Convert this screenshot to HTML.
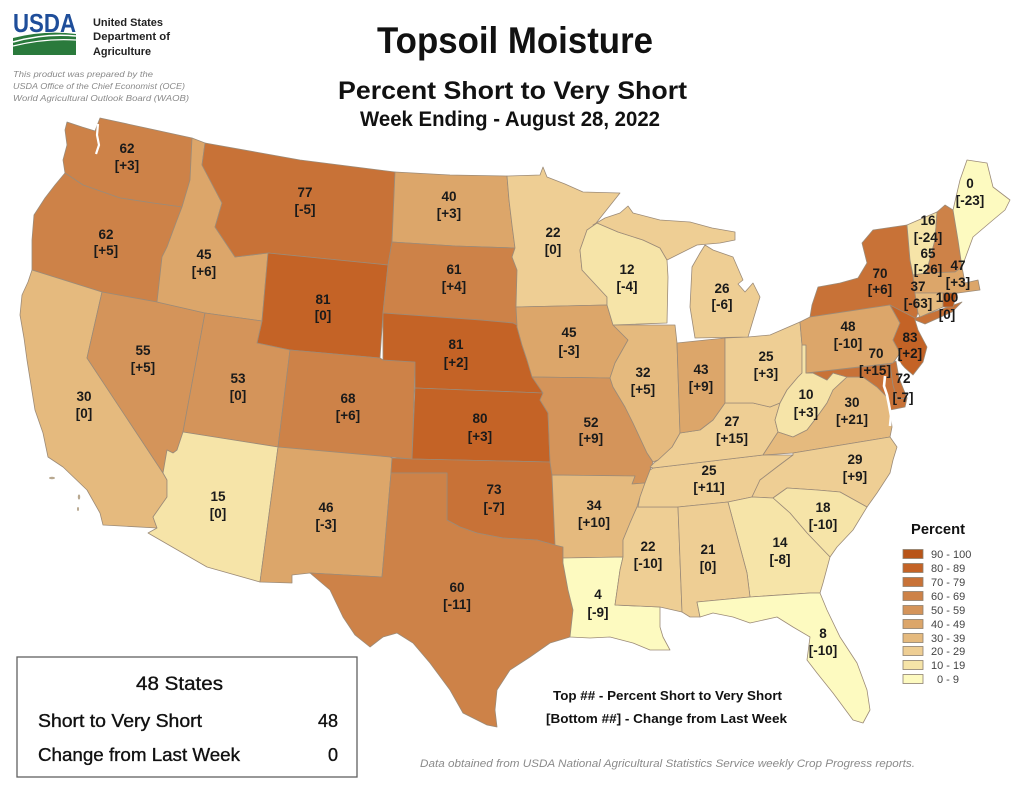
<!DOCTYPE html>
<html><head><meta charset="utf-8"><style>
html,body{margin:0;padding:0;background:#fff;}
svg{display:block;}
.s{stroke:#9c8b78;stroke-width:0.8;stroke-linejoin:round;}
.c9{fill:#b85418}.c8{fill:#c46326}.c7{fill:#c87237}.c6{fill:#cd8248}.c5{fill:#d4945a}
.c4{fill:#dca66a}.c3{fill:#e5ba7e}.c2{fill:#eece94}.c1{fill:#f6e4a8}.c0{fill:#fdfac0}
.l text{font-family:"Liberation Sans",Arial,sans-serif;font-weight:bold;font-size:13.5px;fill:#1a1a1a;text-anchor:middle;}
.t{font-family:"Liberation Sans",Arial,sans-serif;}
</style></head><body>
<svg width="1024" height="791" viewBox="0 0 1024 791" xmlns="http://www.w3.org/2000/svg">
<rect width="1024" height="791" fill="#fff"/>

<!-- USDA logo -->
<text class="t" x="13" y="32" font-size="26" font-weight="bold" fill="#1f4e9a" textLength="63" lengthAdjust="spacingAndGlyphs">USDA</text>
<path d="M13,38 Q45,30 76,34 L76,55 L13,55 Z" fill="#2a7a3c"/>
<path d="M13,42 Q45,33 76,36" stroke="#fff" stroke-width="1.6" fill="none"/>
<path d="M13,46 Q45,38 76,40" stroke="#fff" stroke-width="1.2" fill="none"/>
<text class="t" x="93" y="26" font-size="11" font-weight="bold" fill="#222" textLength="70" lengthAdjust="spacingAndGlyphs">United States</text>
<text class="t" x="93" y="40" font-size="11" font-weight="bold" fill="#222" textLength="77" lengthAdjust="spacingAndGlyphs">Department of</text>
<text class="t" x="93" y="55" font-size="11" font-weight="bold" fill="#222" textLength="58" lengthAdjust="spacingAndGlyphs">Agriculture</text>
<text class="t" x="13" y="77" font-size="8.5" font-style="italic" fill="#8a8a8a" textLength="140" lengthAdjust="spacingAndGlyphs">This product was prepared by the</text>
<text class="t" x="13" y="89" font-size="8.5" font-style="italic" fill="#8a8a8a" textLength="172" lengthAdjust="spacingAndGlyphs">USDA Office of the Chief Economist (OCE)</text>
<text class="t" x="13" y="101" font-size="8.5" font-style="italic" fill="#8a8a8a" textLength="176" lengthAdjust="spacingAndGlyphs">World Agricultural Outlook Board (WAOB)</text>

<!-- Titles -->
<text class="t" x="377" y="53" font-size="37" font-weight="bold" fill="#111" textLength="276" lengthAdjust="spacingAndGlyphs">Topsoil Moisture</text>
<text class="t" x="338" y="99" font-size="25" font-weight="bold" fill="#111" textLength="349" lengthAdjust="spacingAndGlyphs">Percent Short to Very Short</text>
<text class="t" x="360" y="126" font-size="21" font-weight="bold" fill="#111" textLength="300" lengthAdjust="spacingAndGlyphs">Week Ending - August 28, 2022</text>

<!-- States -->
<g class="s">
<polygon class="c6" points="67,122 82,127 95,131 100,118 192,138 190,180 182,207 153,203 120,198 83,185 65,173 63,160 67,145 65,130"/>
<polygon class="c6" points="65,173 83,185 120,198 153,203 182,207 177,220 167,247 162,257 157,302 102,292 32,270 32,240 34,215 45,198 55,185"/>
<polygon class="c3" points="32,270 102,292 87,358 163,473 167,480 167,497 153,517 157,528 103,525 100,513 87,490 63,467 48,457 43,433 35,410 31,385 27,360 24,338 20,315 22,295 28,282"/>
<polygon class="c5" points="102,292 157,302 205,313 183,432 177,450 173,453 167,450 163,473 87,358"/>
<polygon class="c4" points="192,138 205,143 202,165 222,203 215,227 235,257 268,253 262,321 205,313 157,302 162,257 167,247 177,220 182,207 190,180"/>
<polygon class="c7" points="205,143 300,160 395,172 392,242 388,265 268,253 235,257 215,227 222,203 202,165"/>
<polygon class="c8" points="268,253 388,265 383,313 380,358 290,350 257,343 262,321"/>
<polygon class="c5" points="205,313 262,321 257,343 290,350 278,447 183,432"/>
<polygon class="c6" points="290,350 380,358 383,360 415,362 412,459 390,457 278,447"/>
<polygon class="c1" points="183,432 278,447 260,582 207,567 148,533 157,528 153,517 167,497 167,480 163,473 167,450 173,453 177,450"/>
<polygon class="c4" points="278,447 390,457 392,458 391,473 382,577 310,573 292,575 292,583 260,582"/>
<polygon class="c4" points="395,172 450,175 507,176 509,200 512,225 515,248 455,246 392,242"/>
<polygon class="c6" points="392,242 455,246 515,248 512,257 517,270 516,307 517,325 513,323 480,320 383,313 388,265"/>
<polygon class="c8" points="383,313 480,320 513,323 517,325 517,327 522,345 527,360 533,377 543,393 415,388 415,362 383,360"/>
<polygon class="c8" points="415,388 543,393 540,400 548,413 550,462 412,459"/>
<polygon class="c7" points="392,458 412,459 550,462 552,475 555,545 537,540 503,538 477,533 460,527 447,520 447,473 391,473"/>
<polygon class="c6" points="391,473 447,473 447,520 460,527 477,533 503,538 537,540 555,545 563,547 563,563 568,590 573,610 570,637 550,643 530,657 510,670 497,690 495,710 497,727 487,725 463,713 450,690 430,663 413,643 397,633 383,637 370,647 355,635 343,617 330,590 310,573 382,577"/>
<polygon class="c2" points="507,176 540,175 543,167 547,177 565,184 583,192 620,193 593,227 587,230 580,250 582,270 607,297 607,305 516,307 517,270 512,257 515,248 512,225 509,200"/>
<polygon class="c4" points="516,307 607,305 613,325 628,340 615,363 610,378 532,377 527,360 522,345 517,327 517,325"/>
<polygon class="c5" points="532,377 610,378 613,387 625,407 633,423 647,453 653,462 650,470 645,483 632,484 635,476 552,475 550,462 548,413 540,400 543,393"/>
<polygon class="c3" points="552,475 635,476 632,484 645,483 640,497 637,507 630,523 623,540 623,557 563,558 563,547 555,545"/>
<polygon class="c0" points="563,558 623,557 620,570 615,605 660,607 660,627 663,637 670,650 650,650 633,643 610,637 590,638 570,637 573,610 568,590 563,563"/>
<polygon class="c2" points="638,507 678,507 682,612 660,607 615,605 620,570 623,557 623,540 630,523 637,507"/>
<polygon class="c2" points="650,470 653,468 763,455 793,455 777,467 760,480 752,497 728,502 678,507 638,507 640,497 645,483"/>
<polygon class="c2" points="650,467 655,462 658,460 672,447 680,433 700,430 713,420 725,403 740,403 753,403 770,407 780,403 775,420 778,432 763,455 653,468"/>
<polygon class="c3" points="613,325 675,325 677,343 680,433 672,447 658,460 653,462 647,453 633,423 625,407 613,387 610,378 615,363 628,340"/>
<polygon class="c4" points="677,343 725,338 725,403 713,420 700,430 680,433"/>
<polygon class="c2" points="725,338 748,337 770,335 800,322 802,345 802,373 798,377 787,390 780,403 770,407 753,403 740,403 725,403"/>
<polygon class="c1" points="802,345 806,345 806,373 813,373 827,380 833,373 847,377 833,390 827,403 817,417 807,430 793,437 778,432 775,420 780,403 787,390 798,377 802,373"/>
<polygon class="c3" points="763,455 778,432 793,437 807,430 817,417 827,403 833,390 847,377 863,377 877,387 887,397 890,410 892,427 890,437 793,453"/>
<polygon class="c7" points="806,373 890,364 893,385 897,399 907,398 905,407 890,410 887,397 877,387 863,377 847,377 833,373 827,380 813,373"/>
<polygon class="c7" points="890,364 896,361 899,378 907,398 897,399 893,385"/>
<polygon class="c2" points="793,453 890,437 897,447 893,460 890,473 877,493 867,507 840,492 817,490 787,488 773,498 752,497 760,480 777,467 793,455"/>
<polygon class="c1" points="773,498 787,488 817,490 840,492 867,507 853,530 837,547 830,557 807,533 790,513"/>
<polygon class="c1" points="728,502 752,497 773,498 790,513 807,533 830,557 823,583 820,593 810,593 750,597 747,573"/>
<polygon class="c2" points="678,507 728,502 747,573 750,597 697,602 700,617 690,617 682,612"/>
<polygon class="c0" points="697,602 750,597 810,593 820,593 827,610 840,637 857,663 867,690 870,710 863,723 853,720 833,693 817,673 807,660 810,637 793,627 777,617 750,623 733,617 713,613 700,617"/>
<polygon class="c1" points="587,230 597,223 618,232 643,240 660,248 667,260 668,277 667,323 613,325 607,305 607,297 582,270 580,250"/>
<polygon class="c2" points="593,225 605,218 620,213 628,206 633,213 660,220 690,222 712,228 735,232 735,240 720,243 697,245 673,257 667,260 660,248 643,240 618,232 597,223"/>
<polygon class="c2" points="705,245 713,250 733,257 743,280 738,284 745,292 753,283 760,297 757,307 748,337 695,338 690,307 692,267 700,253"/>
<polygon class="c7" points="810,317 812,305 818,287 840,283 858,278 867,263 862,243 873,230 907,225 910,260 913,275 915,293 918,313 916,318 945,308 962,302 952,312 925,324 915,320 890,305"/>
<polygon class="c4" points="800,322 810,317 890,305 900,323 893,340 900,353 893,363 806,373 806,345 802,345"/>
<polygon class="c8" points="890,305 915,318 915,320 918,330 927,347 923,362 913,375 905,368 898,360 900,353 893,340 900,323"/>
<polygon class="c1" points="907,225 937,212 935,240 927,270 927,273 913,275 910,260"/>
<polygon class="c6" points="937,212 945,205 953,210 958,240 962,267 955,272 927,273 927,270 935,240"/>
<polygon class="c0" points="953,210 960,180 967,160 987,163 993,187 1010,200 1005,210 993,220 973,237 962,267 958,240"/>
<polygon class="c4" points="913,275 927,273 955,272 962,267 965,283 978,280 980,290 958,293 943,293 915,293"/>
<polygon class="c3" points="915,293 943,293 943,307 920,317 918,313"/>
<polygon class="c9" points="943,293 957,293 953,307 943,307"/>
</g>
<!-- water inlets -->
<path d="M98,124 L97,135 L99,145 L96,154" stroke="#fff" stroke-width="2.2" fill="none"/>
<path d="M885,376 L884,386 L887,395 L889,405 L891,416 L890,426" stroke="#fff" stroke-width="2.6" fill="none"/>
<path d="M899,362 L902,368 L905,373" stroke="#fff" stroke-width="2" fill="none"/>
<ellipse cx="52" cy="478" rx="3" ry="1.2" fill="#b8a890"/>
<ellipse cx="79" cy="497" rx="1.2" ry="2.5" fill="#b8a890"/>
<ellipse cx="78" cy="509" rx="1" ry="2" fill="#b8a890"/>

<!-- State labels -->
<g class="l">
<text x="127" y="153">62</text><text x="127" y="170">[+3]</text>
<text x="106" y="239">62</text><text x="106" y="255">[+5]</text>
<text x="84" y="401">30</text><text x="84" y="418">[0]</text>
<text x="143" y="355">55</text><text x="143" y="372">[+5]</text>
<text x="204" y="259">45</text><text x="204" y="276">[+6]</text>
<text x="305" y="197">77</text><text x="305" y="214">[-5]</text>
<text x="323" y="304">81</text><text x="323" y="320">[0]</text>
<text x="238" y="383">53</text><text x="238" y="400">[0]</text>
<text x="348" y="403">68</text><text x="348" y="420">[+6]</text>
<text x="218" y="501">15</text><text x="218" y="518">[0]</text>
<text x="326" y="512">46</text><text x="326" y="529">[-3]</text>
<text x="449" y="201">40</text><text x="449" y="218">[+3]</text>
<text x="454" y="274">61</text><text x="454" y="291">[+4]</text>
<text x="456" y="349">81</text><text x="456" y="367">[+2]</text>
<text x="480" y="423">80</text><text x="480" y="441">[+3]</text>
<text x="494" y="494">73</text><text x="494" y="512">[-7]</text>
<text x="457" y="592">60</text><text x="457" y="609">[-11]</text>
<text x="553" y="237">22</text><text x="553" y="254">[0]</text>
<text x="627" y="274">12</text><text x="627" y="291">[-4]</text>
<text x="569" y="337">45</text><text x="569" y="355">[-3]</text>
<text x="643" y="377">32</text><text x="643" y="394">[+5]</text>
<text x="701" y="374">43</text><text x="701" y="391">[+9]</text>
<text x="591" y="427">52</text><text x="591" y="443">[+9]</text>
<text x="722" y="293">26</text><text x="722" y="309">[-6]</text>
<text x="766" y="361">25</text><text x="766" y="378">[+3]</text>
<text x="732" y="426">27</text><text x="732" y="443">[+15]</text>
<text x="709" y="475">25</text><text x="709" y="492">[+11]</text>
<text x="806" y="399">10</text><text x="806" y="417">[+3]</text>
<text x="852" y="407">30</text><text x="852" y="424">[+21]</text>
<text x="855" y="464">29</text><text x="855" y="481">[+9]</text>
<text x="823" y="512">18</text><text x="823" y="529">[-10]</text>
<text x="848" y="331">48</text><text x="848" y="348">[-10]</text>
<text x="876" y="358">70</text><text x="875" y="375">[+15]</text>
<text x="594" y="510">34</text><text x="594" y="527">[+10]</text>
<text x="598" y="599">4</text><text x="598" y="617">[-9]</text>
<text x="648" y="551">22</text><text x="648" y="568">[-10]</text>
<text x="708" y="554">21</text><text x="708" y="571">[0]</text>
<text x="780" y="547">14</text><text x="780" y="564">[-8]</text>
<text x="823" y="638">8</text><text x="823" y="655">[-10]</text>
<text x="970" y="188">0</text><text x="970" y="205">[-23]</text>
<text x="928" y="225">16</text><text x="928" y="242">[-24]</text>
<text x="928" y="258">65</text><text x="928" y="274">[-26]</text>
<text x="958" y="270">47</text><text x="958" y="287">[+3]</text>
<text x="880" y="278">70</text><text x="880" y="294">[+6]</text>
<text x="918" y="291">37</text><text x="918" y="308">[-63]</text>
<text x="947" y="302">100</text><text x="947" y="319">[0]</text>
<text x="910" y="342">83</text><text x="910" y="358">[+2]</text>
<text x="903" y="383">72</text><text x="903" y="402">[-7]</text>
</g>

<!-- Legend -->
<text class="t" x="911" y="534" font-size="15" font-weight="bold" fill="#111" textLength="54" lengthAdjust="spacingAndGlyphs">Percent</text>
<g stroke="#8c8070" stroke-width="0.8">
<rect x="903" y="549.5" width="20" height="9" class="c9"/>
<rect x="903" y="563.5" width="20" height="9" class="c8"/>
<rect x="903" y="577.5" width="20" height="9" class="c7"/>
<rect x="903" y="591.5" width="20" height="9" class="c6"/>
<rect x="903" y="605.5" width="20" height="9" class="c5"/>
<rect x="903" y="619.5" width="20" height="9" class="c4"/>
<rect x="903" y="633.5" width="20" height="9" class="c3"/>
<rect x="903" y="646.5" width="20" height="9" class="c2"/>
<rect x="903" y="660.5" width="20" height="9" class="c1"/>
<rect x="903" y="674.5" width="20" height="9" class="c0"/>
</g>
<g class="t" font-size="11" fill="#444">
<text x="931" y="558">90 - 100</text>
<text x="931" y="572">80 - 89</text>
<text x="931" y="586">70 - 79</text>
<text x="931" y="600">60 - 69</text>
<text x="931" y="614">50 - 59</text>
<text x="931" y="628">40 - 49</text>
<text x="931" y="642">30 - 39</text>
<text x="931" y="655">20 - 29</text>
<text x="931" y="669">10 - 19</text>
<text x="937" y="683">0 - 9</text>
</g>

<!-- Footnotes -->
<text class="t" x="553" y="700" font-size="13" font-weight="bold" fill="#111" textLength="229" lengthAdjust="spacingAndGlyphs">Top ## - Percent Short to Very Short</text>
<text class="t" x="546" y="723" font-size="13" font-weight="bold" fill="#111" textLength="241" lengthAdjust="spacingAndGlyphs">[Bottom ##] - Change from Last Week</text>
<text class="t" x="420" y="767" font-size="11" font-style="italic" fill="#8a8a8a" textLength="495" lengthAdjust="spacingAndGlyphs">Data obtained from USDA National Agricultural Statistics Service weekly Crop Progress reports.</text>

<!-- Summary box -->
<rect x="17" y="657" width="340" height="120" fill="#fff" stroke="#606060" stroke-width="1.3"/>
<g stroke="#111" stroke-width="0.35">
<text class="t" x="136" y="690" font-size="19" fill="#111" textLength="87" lengthAdjust="spacingAndGlyphs">48 States</text>
<text class="t" x="38" y="727" font-size="18" fill="#111" textLength="164" lengthAdjust="spacingAndGlyphs">Short to Very Short</text>
<text class="t" x="338" y="727" font-size="18" fill="#111" text-anchor="end">48</text>
<text class="t" x="38" y="761" font-size="18" fill="#111" textLength="202" lengthAdjust="spacingAndGlyphs">Change from Last Week</text>
<text class="t" x="338" y="761" font-size="18" fill="#111" text-anchor="end">0</text>
</g>
</svg>
</body></html>
